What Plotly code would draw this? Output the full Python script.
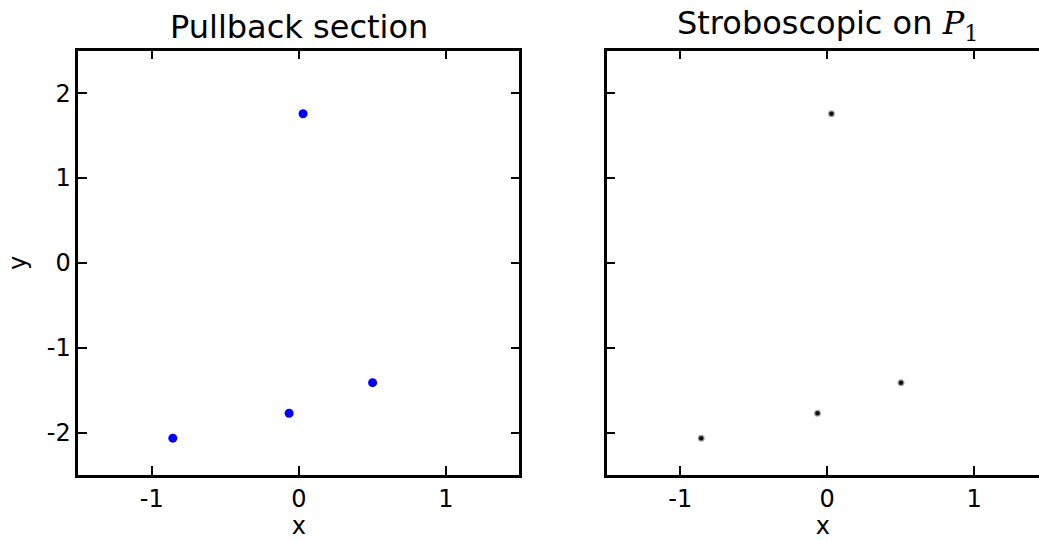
import plotly.graph_objects as go

# Periodic orbit points (x, y) seen on the section
pts_x = [0.029, -0.857, -0.066, 0.502]
pts_y = [1.757, -2.066, -1.772, -1.412]

x_ticks = [-1, 0, 1]
x_tick_text = ["-1", "0", "1"]
y_ticks = [-2, -1, 0, 1, 2]
y_tick_text = ["-2", "-1", "0", "1", "2"]

FONT = "DejaVu Sans"
W, H = 1039, 540

fig = go.Figure()

# Left panel: pullback section
fig.add_trace(go.Scatter(
    x=pts_x, y=pts_y, mode="markers", xaxis="x", yaxis="y",
    marker=dict(color="#0000ff", size=9, line=dict(width=0)),
    showlegend=False, hoverinfo="skip"))

# Right panel: stroboscopic samples (soft dark dots)
fig.add_trace(go.Scatter(
    x=pts_x, y=pts_y, mode="markers", xaxis="x2", yaxis="y2",
    marker=dict(color="rgba(0,0,0,0.35)", size=7, line=dict(width=0)),
    showlegend=False, hoverinfo="skip"))
fig.add_trace(go.Scatter(
    x=pts_x, y=pts_y, mode="markers", xaxis="x2", yaxis="y2",
    marker=dict(color="rgba(0,0,0,0.9)", size=4.5, line=dict(width=0)),
    showlegend=False, hoverinfo="skip"))

tick_font = dict(family=FONT, size=24, color="black")
label_font = dict(family=FONT, size=24, color="black")
common_x = dict(
    tickmode="array", tickvals=x_ticks, ticktext=x_tick_text,
    ticks="inside", ticklen=9, tickwidth=1.5, tickcolor="black",
    showline=True, linewidth=2.5, linecolor="black", mirror="ticks",
    showgrid=False, zeroline=False, tickfont=tick_font,
    title=dict(text="x", font=label_font, standoff=0),
)
common_y = dict(
    tickmode="array", tickvals=y_ticks, ticktext=y_tick_text,
    range=[-2.5, 2.5],
    ticks="inside", ticklen=9, tickwidth=1.5, tickcolor="black",
    showgrid=False, zeroline=False, tickfont=tick_font,
)

y_dom = [1 - 475 / H, 1 - 50.7 / H]
x1_dom = [78.3 / W, 519.3 / W]
x2_left = 606.7 / W
px_per_unit = (519.3 - 78.3) / 3.0
x2_right_val = -1.5 + (W - 606.7) / px_per_unit

fig.update_layout(
    width=W, height=H,
    margin=dict(l=0, r=0, t=0, b=0),
    paper_bgcolor="white", plot_bgcolor="white",
    font=dict(family=FONT, color="black"),
    xaxis=dict(common_x, domain=x1_dom, range=[-1.5, 1.5], anchor="y"),
    yaxis=dict(common_y, domain=y_dom, anchor="x",
               showline=True, linewidth=2.5, linecolor="black", mirror="ticks",
               title=dict(text="y", font=label_font, standoff=14)),
    xaxis2=dict(common_x, domain=[x2_left, 1.0], range=[-1.5, x2_right_val], anchor="y2"),
    yaxis2=dict(common_y, domain=y_dom, anchor="x2", showticklabels=False,
                showline=True, linewidth=2.5, linecolor="black", mirror=False),
    # right-hand tick stubs of the second panel
    yaxis3=dict(common_y, overlaying="y2", anchor="x2", side="right",
                showticklabels=False, showline=False, ticklen=4),
)

# Panel titles
title_font = dict(family=FONT, size=32, color="black")
fig.add_annotation(text="Pullback section", xref="x domain", yref="paper",
                   x=0.5, y=1 - 48 / H, xanchor="center", yanchor="bottom",
                   showarrow=False, font=title_font)
fig.add_annotation(
    text=("Stroboscopic on "
          "<span style='font-family:DejaVu Serif'><i>P</i><sub>1</sub></span>"),
    xref="paper", yref="paper",
    x=(606.7 + 220.5) / W, y=1 - 48 / H, xanchor="center", yanchor="bottom",
    showarrow=False, font=title_font)

fig.write_html("out.html")
